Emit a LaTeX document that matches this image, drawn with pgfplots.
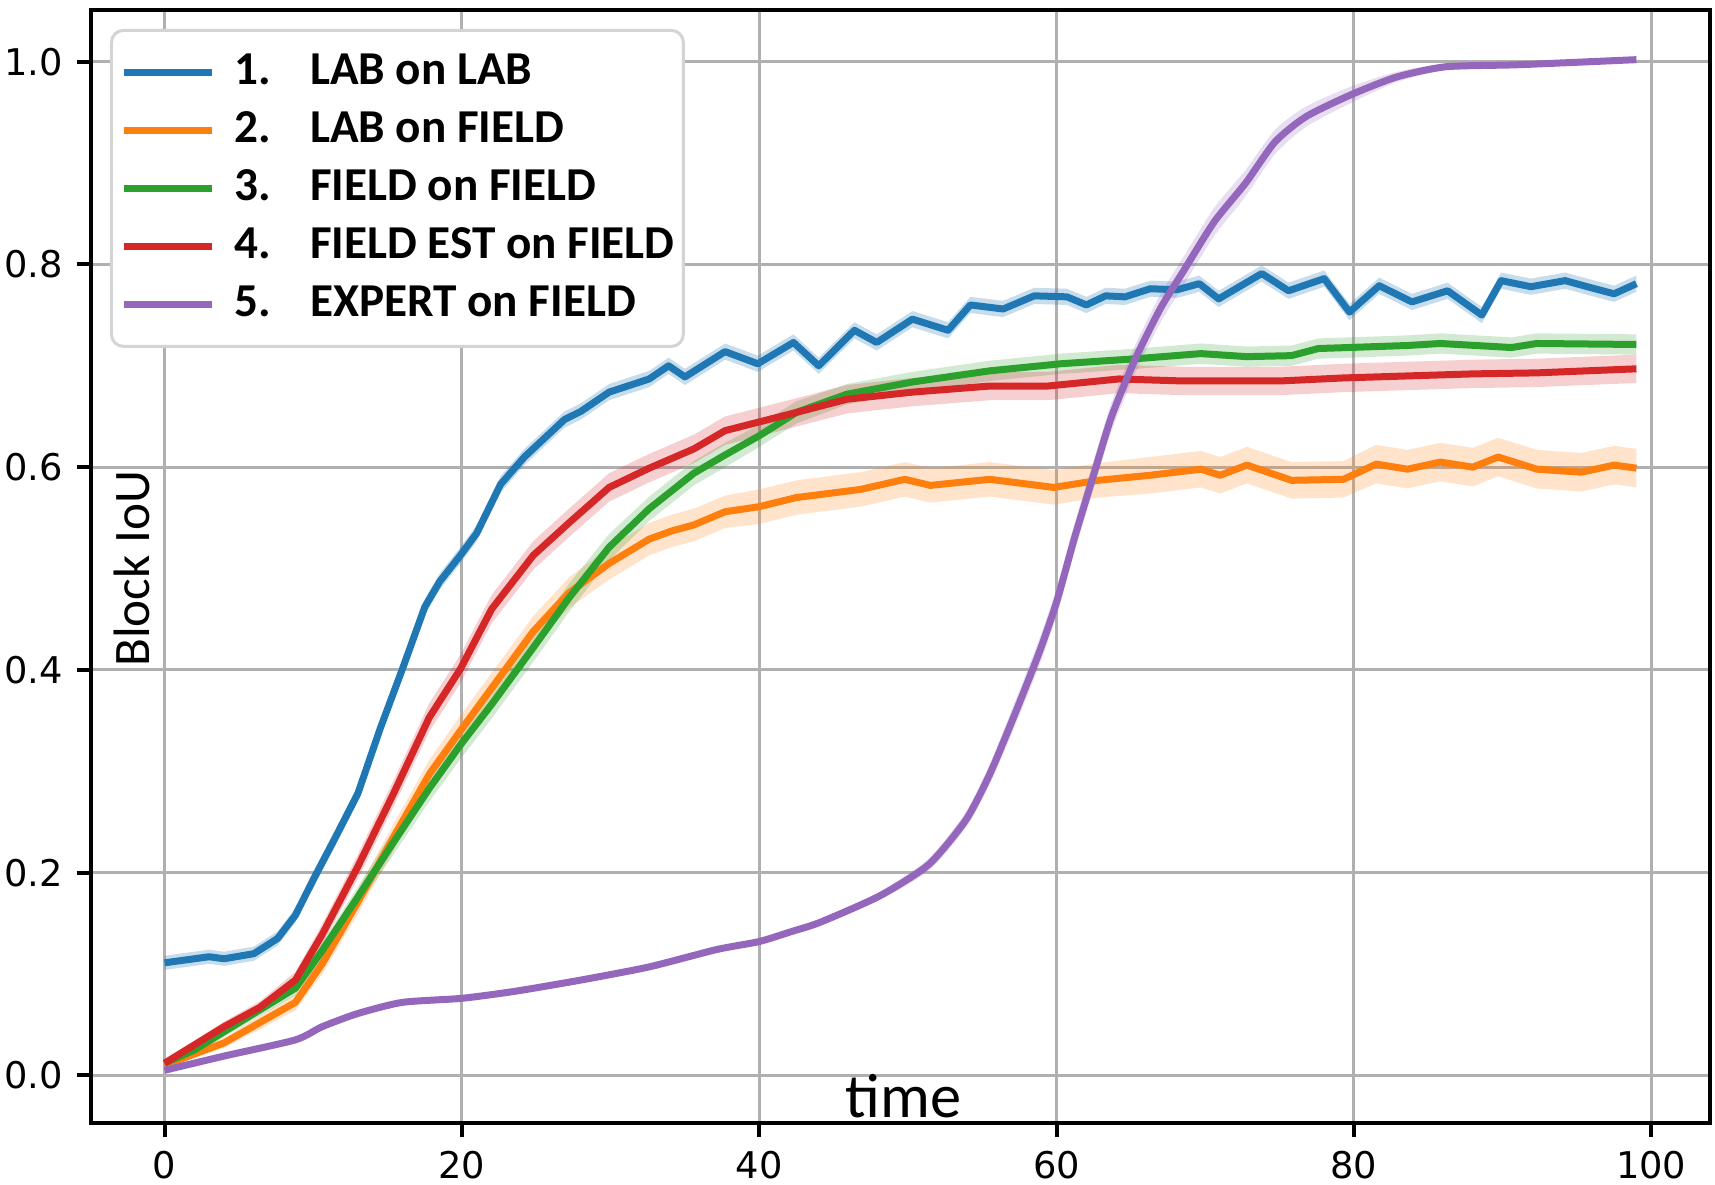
\documentclass[border=0pt]{standalone}
\usepackage{pgfplots}
\pgfplotsset{compat=1.18}
\usepgfplotslibrary{fillbetween}
\usepackage{pgfplotstable}
\usepackage{fontspec}
\setmainfont{DejaVu Sans}
\newfontfamily\carlito{Carlito}
\definecolor{c0}{HTML}{1F77B4}
\definecolor{c1}{HTML}{FF7F0E}
\definecolor{c2}{HTML}{2CA02C}
\definecolor{c3}{HTML}{D62728}
\definecolor{c4}{HTML}{9467BD}
\definecolor{gridc}{RGB}{176,176,176}
\definecolor{legc}{RGB}{212,212,212}

\pgfplotstableread{
x y e
0 0.111 0.007
2 0.115 0.007
3 0.117 0.007
4 0.115 0.007
6 0.120 0.007
7.6 0.135 0.007
8.8 0.158 0.007
10 0.193 0.008
11.5 0.235 0.008
13 0.278 0.008
14.5 0.342 0.008
16 0.401 0.008
17.5 0.462 0.008
18.5 0.487 0.008
20 0.515 0.008
21 0.535 0.008
22.6 0.583 0.008
24.2 0.610 0.008
26.9 0.647 0.008
28 0.655 0.008
29.9 0.674 0.008
32.6 0.687 0.008
33.9 0.700 0.008
35 0.689 0.008
37.7 0.714 0.008
39.9 0.702 0.008
42.3 0.723 0.008
44 0.700 0.008
46.4 0.735 0.008
47.9 0.723 0.008
50.3 0.746 0.008
52.7 0.735 0.008
54.2 0.760 0.008
56.4 0.756 0.008
58.5 0.769 0.008
60.7 0.768 0.008
62 0.760 0.008
63.3 0.769 0.008
64.6 0.768 0.008
66.3 0.776 0.008
68.1 0.775 0.008
69.6 0.781 0.008
70.9 0.766 0.008
73.8 0.791 0.008
75.6 0.774 0.008
78 0.786 0.008
79.7 0.753 0.008
81.7 0.779 0.008
83.9 0.763 0.008
86.3 0.774 0.008
88.6 0.750 0.008
89.9 0.784 0.008
91.9 0.778 0.008
94.2 0.784 0.008
96.2 0.776 0.008
97.5 0.771 0.008
99 0.781 0.008
}\blueT

\pgfplotstableread{
x y e
0 0.010 0.003
4 0.032 0.005
8.8 0.072 0.008
10.6 0.110 0.010
13 0.171 0.012
15.4 0.235 0.013
17.8 0.297 0.014
19.9 0.340 0.015
22 0.382 0.015
24.8 0.438 0.015
27.2 0.476 0.015
29.9 0.505 0.016
32.6 0.529 0.016
34.1 0.537 0.016
35.6 0.543 0.016
37.7 0.556 0.016
40 0.561 0.017
42.5 0.570 0.017
46.8 0.578 0.017
49.8 0.588 0.017
51.5 0.582 0.017
55.5 0.588 0.017
59.8 0.580 0.017
62.8 0.587 0.017
66.3 0.592 0.018
69.7 0.598 0.018
71 0.592 0.018
72.8 0.602 0.018
75.8 0.587 0.018
79.3 0.588 0.018
81.5 0.603 0.019
83.6 0.598 0.019
85.8 0.605 0.019
88 0.600 0.019
89.7 0.610 0.019
92.3 0.598 0.019
95.3 0.595 0.019
97.5 0.602 0.019
99 0.599 0.019
}\orangeT

\pgfplotstableread{
x y e
0 0.012 0.003
2 0.025 0.004
4 0.043 0.005
8.8 0.086 0.007
10.6 0.123 0.008
13 0.176 0.010
15.4 0.230 0.012
17.8 0.283 0.013
19.9 0.326 0.014
22 0.366 0.014
24.8 0.422 0.014
27.2 0.471 0.014
29.9 0.521 0.013
32.6 0.559 0.012
35.6 0.594 0.012
37.7 0.612 0.012
40 0.631 0.011
42.5 0.654 0.011
45.9 0.672 0.010
50.3 0.684 0.010
55.5 0.695 0.010
60.3 0.702 0.010
65.4 0.707 0.010
69.7 0.712 0.010
72.8 0.709 0.010
75.8 0.710 0.010
77.6 0.717 0.010
83.6 0.720 0.010
85.8 0.722 0.010
90.6 0.718 0.010
92.3 0.722 0.010
99 0.721 0.010
}\greenT

\pgfplotstableread{
x y e
0 0.012 0.003
4 0.048 0.005
6.4 0.067 0.006
8.8 0.094 0.008
10.6 0.139 0.010
13 0.206 0.012
15.4 0.278 0.013
17.8 0.353 0.014
19.9 0.401 0.014
22 0.460 0.014
24.8 0.513 0.014
27.2 0.545 0.014
29.9 0.580 0.014
32.6 0.599 0.014
35.6 0.618 0.014
37.7 0.636 0.014
42.5 0.654 0.014
45.9 0.667 0.014
50.3 0.674 0.014
55.5 0.680 0.014
59.4 0.680 0.014
64.2 0.687 0.014
68.5 0.685 0.014
75 0.685 0.014
79.3 0.688 0.014
88 0.692 0.014
92.3 0.693 0.014
99 0.697 0.014
}\redT

\pgfplotstableread{
x y e
0 0.005 0.002
4 0.019 0.002
8.8 0.035 0.002
10.6 0.048 0.002
13 0.061 0.002
16 0.072 0.002
20 0.076 0.002
23.6 0.083 0.002
28 0.094 0.002
32.6 0.107 0.002
37.1 0.124 0.002
40 0.132 0.002
42.2 0.142 0.003
44.1 0.151 0.003
48.1 0.177 0.004
51.4 0.208 0.006
53.9 0.252 0.008
55.5 0.297 0.010
57.1 0.353 0.012
58.8 0.416 0.013
60 0.467 0.014
61.2 0.530 0.014
62.5 0.593 0.014
63.7 0.650 0.014
65.3 0.707 0.014
67 0.757 0.014
68.6 0.795 0.014
70.6 0.842 0.014
72.7 0.880 0.013
74.7 0.921 0.012
76.8 0.946 0.010
79.9 0.968 0.008
82.9 0.985 0.005
86.2 0.995 0.003
91.1 0.997 0.002
99 1.002 0.002
}\purpleT

\begin{document}
\begin{tikzpicture}
\begin{axis}[
  at={(0,0)}, anchor=south west,
  scale only axis,
  width=404.75pt, height=278.25pt,
  xmin=-4.95, xmax=103.95,
  ymin=-0.047, ymax=1.051,
  xtick={0,20,40,60,80,100},
  ytick={0,0.2,0.4,0.6,0.8,1.0},
  yticklabel style={/pgf/number format/.cd, fixed, fixed zerofill, precision=1},
  /pgf/number format/assume math mode=true,
  tick label style={font=\fontsize{9.2}{11}\selectfont, black},
  tick align=outside,
  major tick length=3.5pt,
  tick style={black, line width=1pt},
  xtick pos=bottom, ytick pos=left,
  axis line style={black, line width=1pt},
  grid=major,
  major grid style={gridc, line width=0.75pt},
  xlabel={time},
  ylabel={Block IoU},
  xlabel style={at={(axis description cs:0.502,0.0243)}, anchor=center, font=\carlito\fontsize{15.6}{18}\selectfont},
  ylabel style={at={(axis description cs:0.025,0.498)}, anchor=center, font=\carlito\fontsize{12.8}{15}\selectfont},
  legend cell align=left,
  legend image code/.code={\draw[#1] (0pt,0pt) -- (22pt,0pt);},
  legend style={at={(0.0117,0.983)}, anchor=north west,
    font=\carlito\bfseries\fontsize{11.8}{14}\selectfont,
    draw=legc, line width=0.75pt, rounded corners=3pt, fill=white,
    inner xsep=2.2pt, inner ysep=4.6pt,
    nodes={inner sep=0pt, text height=9pt, text depth=3pt},
    row sep=2.45pt, column sep=4.9pt},
  every axis plot/.append style={line width=1.75pt, line join=round},
]
% 1 blue
\addplot[name path=bU, draw=none, forget plot] table[x=x, y expr=\thisrow{y}+\thisrow{e}] {\blueT};
\addplot[name path=bL, draw=none, forget plot] table[x=x, y expr=\thisrow{y}-\thisrow{e}] {\blueT};
\addplot[c0, fill opacity=0.25, draw=none, forget plot] fill between[of=bU and bL];
\addplot[c0] table[x=x, y=y] {\blueT};
\addlegendentry{\makebox[18.8pt][l]{1.}LAB on LAB}
% 2 orange
\addplot[name path=oU, draw=none, forget plot] table[x=x, y expr=\thisrow{y}+\thisrow{e}] {\orangeT};
\addplot[name path=oL, draw=none, forget plot] table[x=x, y expr=\thisrow{y}-\thisrow{e}] {\orangeT};
\addplot[c1, fill opacity=0.22, draw=none, forget plot] fill between[of=oU and oL];
\addplot[c1] table[x=x, y=y] {\orangeT};
\addlegendentry{\makebox[18.8pt][l]{2.}LAB on FIELD}
% 3 green
\addplot[name path=gU, draw=none, forget plot] table[x=x, y expr=\thisrow{y}+\thisrow{e}] {\greenT};
\addplot[name path=gL, draw=none, forget plot] table[x=x, y expr=\thisrow{y}-\thisrow{e}] {\greenT};
\addplot[c2, fill opacity=0.22, draw=none, forget plot] fill between[of=gU and gL];
\addplot[c2] table[x=x, y=y] {\greenT};
\addlegendentry{\makebox[18.8pt][l]{3.}FIELD on FIELD}
% 4 red
\addplot[name path=rU, draw=none, forget plot] table[x=x, y expr=\thisrow{y}+\thisrow{e}] {\redT};
\addplot[name path=rL, draw=none, forget plot] table[x=x, y expr=\thisrow{y}-\thisrow{e}] {\redT};
\addplot[c3, fill opacity=0.22, draw=none, forget plot] fill between[of=rU and rL];
\addplot[c3] table[x=x, y=y] {\redT};
\addlegendentry{\makebox[18.8pt][l]{4.}FIELD EST on FIELD}
% 5 purple
\addplot[name path=pU, draw=none, forget plot, smooth, tension=0.4] table[x=x, y expr=\thisrow{y}+\thisrow{e}] {\purpleT};
\addplot[name path=pL, draw=none, forget plot, smooth, tension=0.4] table[x=x, y expr=\thisrow{y}-\thisrow{e}] {\purpleT};
\addplot[c4, fill opacity=0.22, draw=none, forget plot] fill between[of=pU and pL];
\addplot[c4, smooth, tension=0.4] table[x=x, y=y] {\purpleT};
\addlegendentry{\makebox[18.8pt][l]{5.}EXPERT on FIELD}
\end{axis}
\pgfresetboundingbox
\useasboundingbox (-22.75pt,-15.5pt) rectangle (406pt,280.75pt);
\end{tikzpicture}
\end{document}
